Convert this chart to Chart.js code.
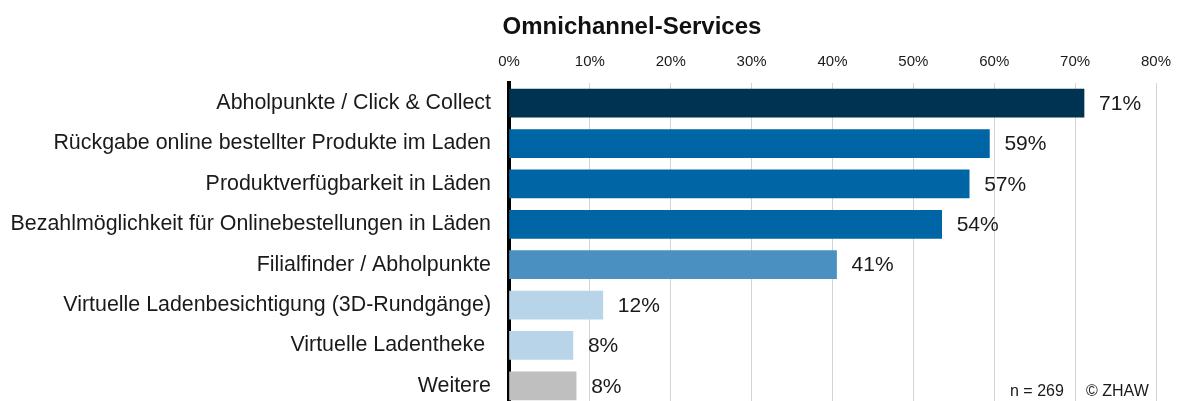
<!DOCTYPE html>
<html>
<head>
<meta charset="utf-8">
<script src="https://cdn.jsdelivr.net/npm/chart.js@4"></script>
<style>
  html, body { margin: 0; padding: 0; background: #fff; overflow: hidden; }
  #wrap { position: relative; width: 1178px; height: 406px; }
  .note { position: absolute; top: 382px; font: 16px "Liberation Sans", Arial, sans-serif; color: #1a1a1a; white-space: nowrap; }
  #title { position: absolute; top: 12px; left: 432px; width: 400px; text-align: center;
           font: bold 24px/28px "Liberation Sans", Arial, sans-serif; color: #111; }
</style>
</head>
<body>
<div id="wrap">
  <canvas id="servicesChart" width="1178" height="406"></canvas>
  <div id="title">Omnichannel-Services</div>
  <div class="note" style="left:1010px">n = 269</div>
  <div class="note" style="left:1086px">© ZHAW</div>
</div>
<script>
const categories = [
    'Abholpunkte / Click & Collect',
    'Rückgabe online bestellter Produkte im Laden',
    'Produktverfügbarkeit in Läden',
    'Bezahlmöglichkeit für Onlinebestellungen in Läden',
    'Filialfinder / Abholpunkte',
    'Virtuelle Ladenbesichtigung (3D-Rundgänge)',
    'Virtuelle Ladentheke ',
    'Weitere'
];
const shares = [71.1, 59.4, 56.9, 53.5, 40.5, 11.6, 7.9, 8.3];
const barColors = ['#003352', '#0065a5', '#0065a5', '#0065a5', '#4a91c1', '#b8d4e8', '#b8d4e8', '#bfbfbf'];
const tickMax = 80;

const font = '"Liberation Sans", Arial, sans-serif';

// percentage labels right of each bar
const valueLabels = {
    id: 'valueLabels',
    afterDatasetsDraw(chart) {
        const ctx = chart.ctx;
        const meta = chart.getDatasetMeta(0);
        ctx.save();
        ctx.font = '21px ' + font;
        ctx.fillStyle = '#1a1a1a';
        ctx.textBaseline = 'middle';
        ctx.textAlign = 'left';
        meta.data.forEach((bar, i) => {
            ctx.fillText(Math.round(shares[i]) + '%', bar.x + 15, bar.y + 1);
        });
        ctx.restore();
    }
};

const ctx = document.getElementById('servicesChart').getContext('2d');
const chart = new Chart(ctx, {
    type: 'bar',
    data: {
        labels: categories,
        datasets: [{
            data: shares,
            backgroundColor: barColors,
            borderWidth: 0,
            barThickness: 28
        }]
    },
    options: {
        indexAxis: 'y',
        responsive: false,
        animation: false,
        layout: { padding: { left: 0, right: 22, top: 45, bottom: 0 } },
        plugins: {
            legend: { display: false },
            tooltip: { enabled: false },
            title: { display: false }
        },
        scales: {
            x: {
                position: 'top',
                min: 0,
                max: tickMax,
                ticks: {
                    stepSize: 10,
                    color: '#1a1a1a',
                    font: { family: font, size: 15 },
                    padding: 12,
                    callback: v => v + '%'
                },
                grid: { color: '#d3d3d3', lineWidth: 1, drawTicks: false },
                border: { display: false },
                afterFit(scale) {
                    scale.height = 38;
                    scale.paddingLeft = 0;
                    scale.paddingRight = 0;
                }
            },
            y: {
                z: 1,
                ticks: {
                    color: '#1a1a1a',
                    font: { family: font, size: 21.4 },
                    padding: 18
                },
                grid: { display: false, drawTicks: false },
                border: { display: true, color: '#000', width: 4 },
                afterFit(scale) {
                    scale.width = 509;
                    scale.paddingTop = 0;
                    scale.paddingBottom = 0;
                }
            }
        }
    },
    plugins: [valueLabels]
});
</script>
</body>
</html>
